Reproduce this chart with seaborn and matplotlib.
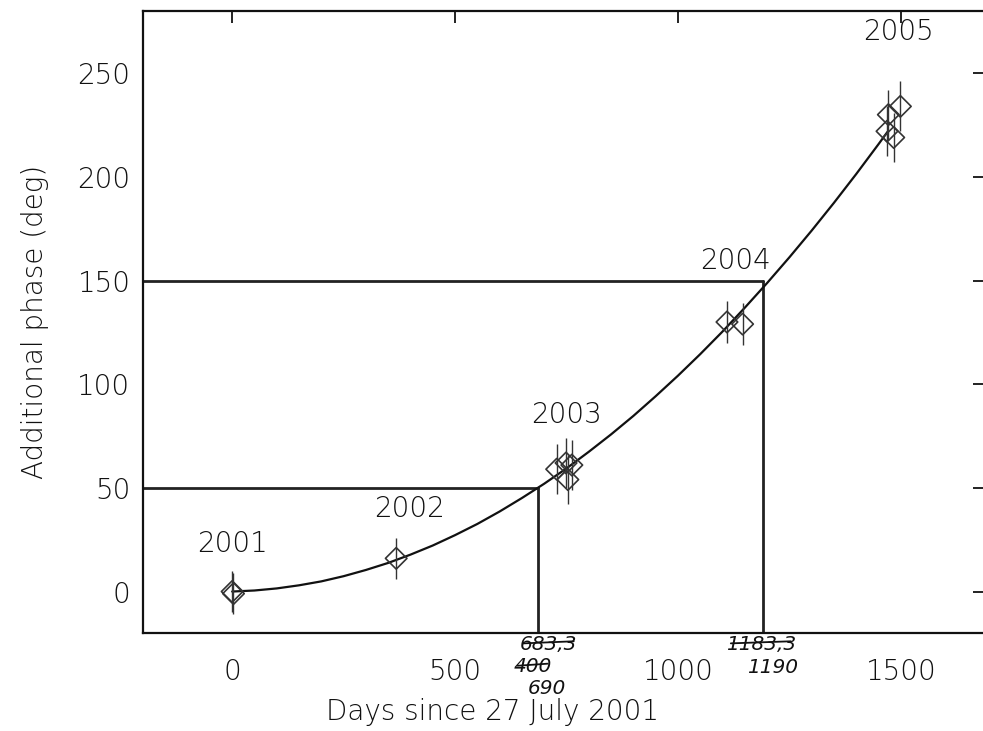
import matplotlib
matplotlib.use("Agg")
import matplotlib.pyplot as plt
import pandas as pd
import seaborn as sns

obs_days = [0, 3, 368, 728, 749, 753, 762, 1110, 1145, 1472, 1499, 1469, 1484]
obs_phase = [0, -1, 16, 59, 62, 54, 61, 130, 129, 230, 234, 222, 219]
obs_err = [10, 10, 10, 12, 12, 12, 12, 10, 10, 12, 12, 12, 12]

# fitted curve, read at 50-day steps
curve_days = [0, 50, 100, 150, 200, 250, 300, 350, 400, 450, 500, 550, 600, 650, 700,
              750, 800, 850, 900, 950, 1000, 1050, 1100, 1150, 1200, 1250, 1300, 1350,
              1400, 1450, 1470]
curve_phase = [0, 0.5, 1.5, 3.0, 4.9, 7.4, 10.4, 13.8, 17.8, 22.2, 27.2, 32.6, 38.6,
               45.1, 52.0, 59.4, 67.4, 75.8, 84.7, 94.2, 104.1, 114.5, 125.4, 136.9,
               148.8, 161.2, 174.1, 187.5, 201.4, 215.8, 221.7]

# guide lines
guide_days = [686, 1190]
guide_phase = [50, 150]

# year labels
year_names = ["2001", "2002", "2003", "2004", "2005"]
year_days = [0, 398, 749, 1128, 1494]
year_phase = [23, 40, 85, 159.6, 269.7]

# handwritten notes below the axis
note_texts = ["683,3", "400", "690", "1183,3", "1190"]
note_days = [710, 674, 706, 1186, 1213]
note_phase = [-25.5, -36.3, -47, -25.5, -36.5]
note_struck = [True, True, False, True, False]

xticks = [0, 500, 1000, 1500]
yticks = [0, 50, 100, 150, 200, 250]

sns.set_style("white")
plt.rcParams["font.family"] = ["DejaVu Sans"]
plt.rcParams["font.weight"] = "light"
plt.rcParams["axes.labelweight"] = "light"

obs = pd.DataFrame({"days": obs_days, "phase": obs_phase, "err": obs_err})
curve = pd.DataFrame({"days": curve_days, "phase": curve_phase})

fig = plt.figure(figsize=(9.83, 7.31), dpi=100)
ax = fig.add_axes([143 / 983, 98 / 731, 847 / 983, 622 / 731])

xmin, xmax = -200, 1700
ymin, ymax = -20, 280

# guide lines
for gx, gy in zip(guide_days, guide_phase):
    ax.plot([xmin, gx], [gy, gy], color="#222222", lw=2.0, zorder=2)
    ax.plot([gx, gx], [ymin, gy], color="#222222", lw=2.0, zorder=2)

sns.lineplot(data=curve, x="days", y="phase", color="#111111", lw=1.6, ax=ax, zorder=3)

ax.errorbar(obs["days"], obs["phase"], yerr=obs["err"], fmt="none",
            ecolor="#333333", elinewidth=1.0, capsize=0, zorder=4)
sns.scatterplot(data=obs, x="days", y="phase", marker="D", s=120,
                facecolor="none", edgecolor="#333333", linewidth=1.2, ax=ax, zorder=5)

for name, yx, yy in zip(year_names, year_days, year_phase):
    ax.text(yx, yy, name, ha="center", va="center", fontsize=20, color="#111111")

for txt, nx, ny, struck in zip(note_texts, note_days, note_phase, note_struck):
    ax.text(nx, ny, txt, ha="center", va="center", fontsize=14.5, style="italic",
            family="DejaVu Sans", weight="normal", color="#111111", clip_on=False)
    if struck:
        half = 11 * len(txt) / 0.4453 / 2.2
        ax.plot([nx - half, nx + half], [ny + 0.5, ny + 1.5], color="#111111",
                lw=1.3, clip_on=False)

ax.set_xlim(xmin, xmax)
ax.set_ylim(ymin, ymax)
ax.set_xticks(xticks)
ax.set_yticks(yticks)
ax.tick_params(axis="both", direction="in", top=True, right=True, colors="#111111",
               labelcolor="#111111", labelsize=20, width=1.3)
ax.tick_params(axis="x", length=8.6, pad=18)
ax.tick_params(axis="y", length=12, pad=9)

for sp in ax.spines.values():
    sp.set_linewidth(1.6)
    sp.set_color("#111111")

ax.set_xlabel("Days since 27 July 2001", fontsize=20, color="#111111")
ax.set_ylabel("Additional phase (deg)", fontsize=20, color="#111111")
ax.xaxis.set_label_coords(0.413, -0.1045)
ax.yaxis.set_label_coords(-0.111, 0.5)

fig.savefig("out.png", dpi=100)
